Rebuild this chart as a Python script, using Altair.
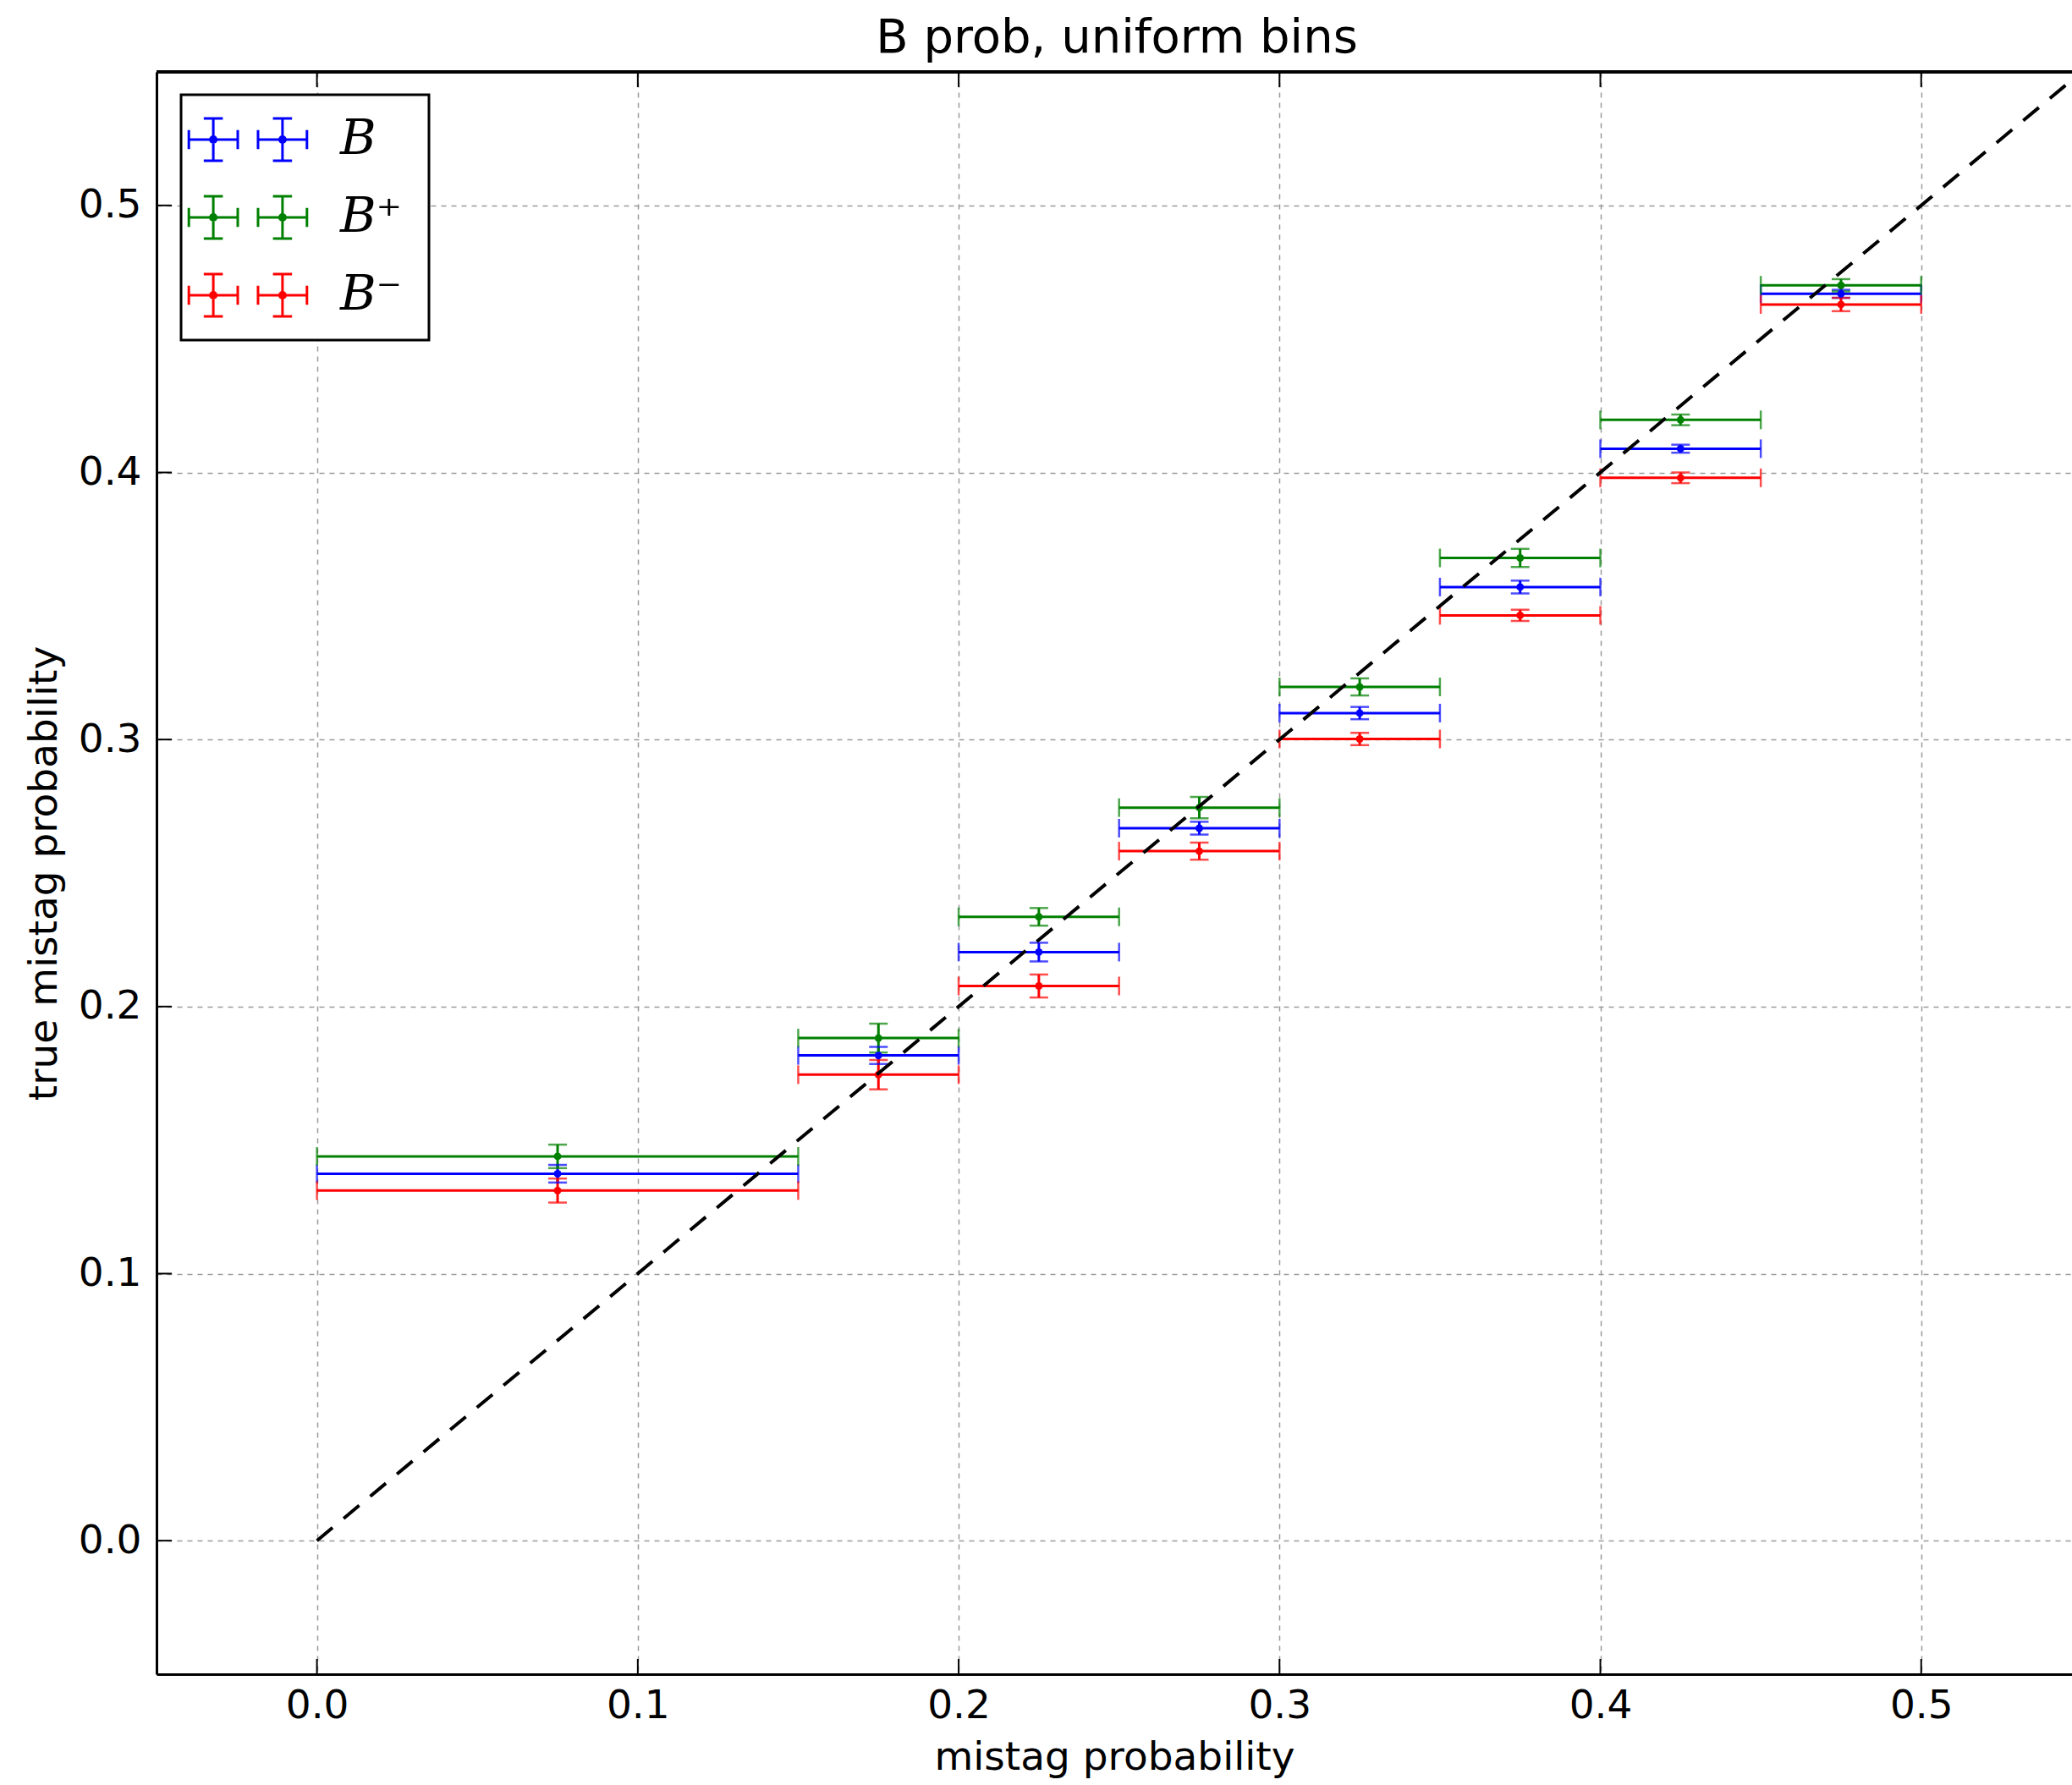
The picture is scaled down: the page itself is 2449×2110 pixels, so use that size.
import altair as alt
import pandas as pd

# ---- data ----
bin_lo = [0.0, 0.15, 0.20, 0.25, 0.30, 0.35, 0.40, 0.45]
bin_hi = [0.15, 0.20, 0.25, 0.30, 0.35, 0.40, 0.45, 0.50]
bin_mid = [0.075, 0.175, 0.225, 0.275, 0.325, 0.375, 0.425, 0.475]

series_names = ["B", "B⁺", "B⁻"]
series_colors = ["#0000ff", "#008000", "#ff0000"]

b_true = [0.1374, 0.1817, 0.2204, 0.2668, 0.3099, 0.3571, 0.4089, 0.4669]
b_err = [0.0033, 0.0032, 0.0035, 0.0024, 0.0023, 0.0024, 0.0015, 0.0015]
bp_true = [0.1439, 0.1882, 0.2336, 0.2745, 0.3197, 0.3680, 0.4197, 0.4701]
bp_err = [0.0044, 0.0054, 0.0033, 0.0040, 0.0032, 0.0034, 0.0020, 0.0023]
bm_true = [0.1311, 0.1745, 0.2077, 0.2582, 0.3002, 0.3465, 0.3980, 0.4629]
bm_err = [0.0045, 0.0055, 0.0043, 0.0032, 0.0023, 0.0021, 0.0020, 0.0025]

diag_x = [0.0, 0.55]
diag_y = [0.0, 0.55]

x_ticks = [0.0, 0.1, 0.2, 0.3, 0.4, 0.5]
y_ticks = [0.0, 0.1, 0.2, 0.3, 0.4, 0.5]

title_text = "B prob, uniform bins"
x_title = "mistag probability"
y_title = "true mistag probability"

# ---- tables ----
rows = []
for name, vals, errs in zip(series_names, [b_true, bp_true, bm_true], [b_err, bp_err, bm_err]):
    for lo, hi, mid, v, e in zip(bin_lo, bin_hi, bin_mid, vals, errs):
        rows.append(dict(series=name, lo=lo, hi=hi, mid=mid, val=v, vlo=v - e, vhi=v + e))
df = pd.DataFrame(rows)
diag_df = pd.DataFrame({"x": diag_x, "y": diag_y})
xt_df = pd.DataFrame({"t": x_ticks})
yt_df = pd.DataFrame({"t": y_ticks})

W, H = 2264, 1894
FONT = "DejaVu Sans"

xs = alt.Scale(domain=[-0.05, 0.547], nice=False, zero=False)
ys = alt.Scale(domain=[-0.05, 0.55], nice=False, zero=False)

x_axis = alt.Axis(values=x_ticks, format=".1f", title=x_title, grid=True)
y_axis = alt.Axis(values=y_ticks, format=".1f", title=y_title, grid=True)


def X(field):
    return alt.X(field, type="quantitative", scale=xs, axis=x_axis, title=x_title)


def Y(field):
    return alt.Y(field, type="quantitative", scale=ys, axis=y_axis, title=y_title)


color_scale = alt.Scale(domain=series_names, range=series_colors)


def cross(cx):
    return (
        f"M{cx-0.41:.3f},0H{cx+0.41:.3f}"
        f"M{cx:.3f},-0.355V0.355"
        f"M{cx-0.41:.3f},-0.16V0.16"
        f"M{cx+0.41:.3f},-0.16V0.16"
        f"M{cx-0.16:.3f},-0.355H{cx+0.16:.3f}"
        f"M{cx-0.16:.3f},0.355H{cx+0.16:.3f}"
        f"M{cx-0.05:.3f},0A0.05,0.05 0 1,0 {cx+0.05:.3f},0A0.05,0.05 0 1,0 {cx-0.05:.3f},0"
        f"M{cx-0.02:.3f},0A0.02,0.02 0 1,0 {cx+0.02:.3f},0A0.02,0.02 0 1,0 {cx-0.02:.3f},0"
    )


symbol_path = cross(-0.58) + cross(0.58)

# trailing blank (not trimmed thanks to the final zero-width space) widens the legend box
label_pad = "\u00a0\u200a\u200b"

legend = alt.Legend(
    title=None,
    orient="none",
    legendX=29,
    legendY=27,
    symbolType=symbol_path,
    symbolSize=141 * 141,
    symbolStrokeWidth=3,
    clipHeight=92,
    rowPadding=0,
    labelFont="DejaVu Serif",
    labelFontStyle="italic",
    labelFontSize=58,
    labelColor="black",
    labelOffset=37,
    labelExpr=f"datum.label + '{label_pad}'",
    padding=7,
    strokeColor="black",
    fillColor="white",
)

color_leg = alt.Color("series:N", scale=color_scale, legend=legend)
color_none = alt.Color("series:N", scale=color_scale, legend=None)

base = alt.Chart(df)

hbar = base.mark_rule(strokeWidth=3).encode(x=X("lo"), x2="hi", y=Y("val"), color=color_leg)
hcaps = base.transform_fold(["lo", "hi"]).mark_tick(
    orient="vertical", size=22, thickness=2.5
).encode(x=X("value"), y=Y("val"), color=color_none)
vbar = base.mark_rule(strokeWidth=3).encode(x=X("mid"), y=Y("vlo"), y2="vhi", color=color_none)
vcaps = base.transform_fold(["vlo", "vhi"]).mark_tick(
    orient="horizontal", size=22, thickness=2.5
).encode(x=X("mid"), y=Y("value"), color=color_none)
dots = base.mark_circle(size=80, opacity=1).encode(x=X("mid"), y=Y("val"), color=color_none)

diag = alt.Chart(diag_df).mark_line(
    color="black", strokeWidth=4, strokeDash=[24, 17], clip=True
).encode(x=X("x"), y=Y("y"))

# top spine and inward tick marks
top_spine = alt.Chart(xt_df).mark_rule(color="black", strokeWidth=3).encode(
    x=alt.datum(-0.05, scale=xs), x2=alt.datum(0.547), y=alt.datum(0.55, scale=ys)
)
xt_bottom = alt.Chart(xt_df).mark_rule(color="black", strokeWidth=2).encode(
    x=X("t"), y=alt.value(H), y2=alt.value(H - 18)
)
xt_top = alt.Chart(xt_df).mark_rule(color="black", strokeWidth=2).encode(
    x=X("t"), y=alt.value(0), y2=alt.value(18)
)
yt_left = alt.Chart(yt_df).mark_rule(color="black", strokeWidth=2).encode(
    y=Y("t"), x=alt.value(0), x2=alt.value(18)
)

chart = alt.layer(
    hbar, hcaps, vbar, vcaps, dots, diag, xt_bottom, xt_top, yt_left, top_spine
).properties(
    width=W,
    height=H,
    autosize=alt.AutoSizeParams(type="none"),
    padding={"left": 185, "top": 85, "right": 0, "bottom": 131},
    title=alt.TitleParams(
        title_text, font=FONT, fontSize=56, fontWeight="normal", color="black",
        anchor="middle", offset=10, dx=3,
    ),
    background="white",
).configure_view(
    strokeWidth=0
).configure_axis(
    labelFont=FONT,
    labelFontSize=47,
    labelColor="black",
    titleFont=FONT,
    titleFontSize=47,
    titleFontWeight="normal",
    titleColor="black",
    tickSize=0,
    domainColor="black",
    domainWidth=3,
    gridColor="#9a9a9a",
    gridWidth=1.5,
    gridDash=[6, 6],
    gridOpacity=1,
).configure_axisX(
    labelPadding=14, titlePadding=15
).configure_axisY(
    labelPadding=18, titlePadding=16
).configure_legend(
    strokeWidth=3
)

chart.save("out.html", embed_options={"renderer": "svg", "actions": False})
